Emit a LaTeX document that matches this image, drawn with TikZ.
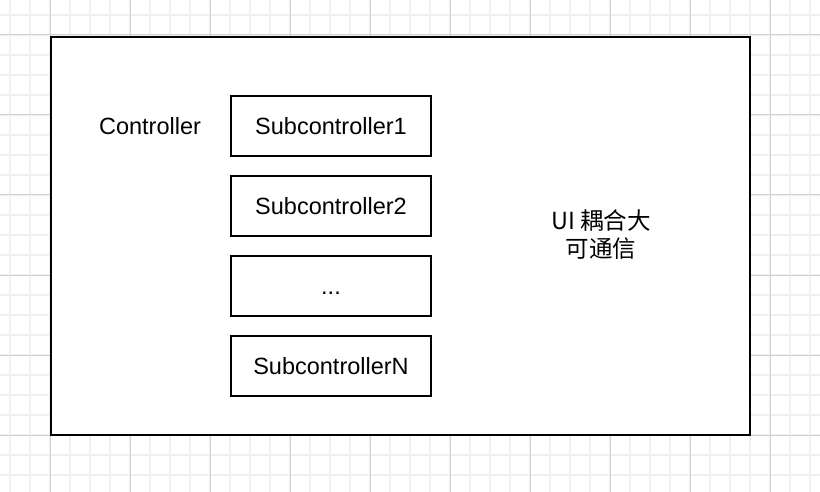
\documentclass[tikz,border=0pt]{standalone}
\usepackage{fontspec}
\setmainfont{Liberation Sans}
\newfontfamily\cjk{Noto Sans CJK SC}
\usepackage{tikz}
\usetikzlibrary{calc,positioning}

\tikzset{
  subbox/.style={draw, line width=1.6pt, minimum width=200pt, minimum height=60pt, inner sep=0pt, outer sep=0pt, text height=17pt, text depth=0pt},
  minorgrid/.style={color=black!6, line width=1.5pt},
  majorgrid/.style={color=black!18, line width=1pt}
}

\begin{document}
\begin{tikzpicture}[x=1pt,y=-1pt,font=\fontsize{23.5}{28}\selectfont]
        \useasboundingbox (0,0) rectangle (820,492);
        \fill[white] (0,0) rectangle (820,492);
        % grid
        \foreach \x in {10,30,...,810}
        \draw[minorgrid] (\x,0) -- (\x,492);
        \foreach \y in {15,35,...,475}
        \draw[minorgrid] (0,\y) -- (820,\y);
        \foreach \x in {50,130,...,770}
        \draw[majorgrid] (\x,0) -- (\x,492);
        \foreach \y in {35,115,...,435}
        \draw[majorgrid] (0,\y) -- (820,\y);
        % outer box
        \draw[line width=2pt, fill=white] (51,37) rectangle (750,435);
        \node (ctrl) at (150,126) {Controller};
        \node[subbox] (sub1) at (331,126) {Subcontroller1};
        \node[subbox, below=20pt of sub1] (sub2) {Subcontroller2};
        \node[subbox, below=20pt of sub2] (subdots) {...};
        \node[subbox, below=20pt of subdots] (subN) {SubcontrollerN};
        \node[align=center] (note) at (601,235) {{\cjk UI 耦合大}\\{\cjk 可通信}};
    \end{tikzpicture}
\end{document}
